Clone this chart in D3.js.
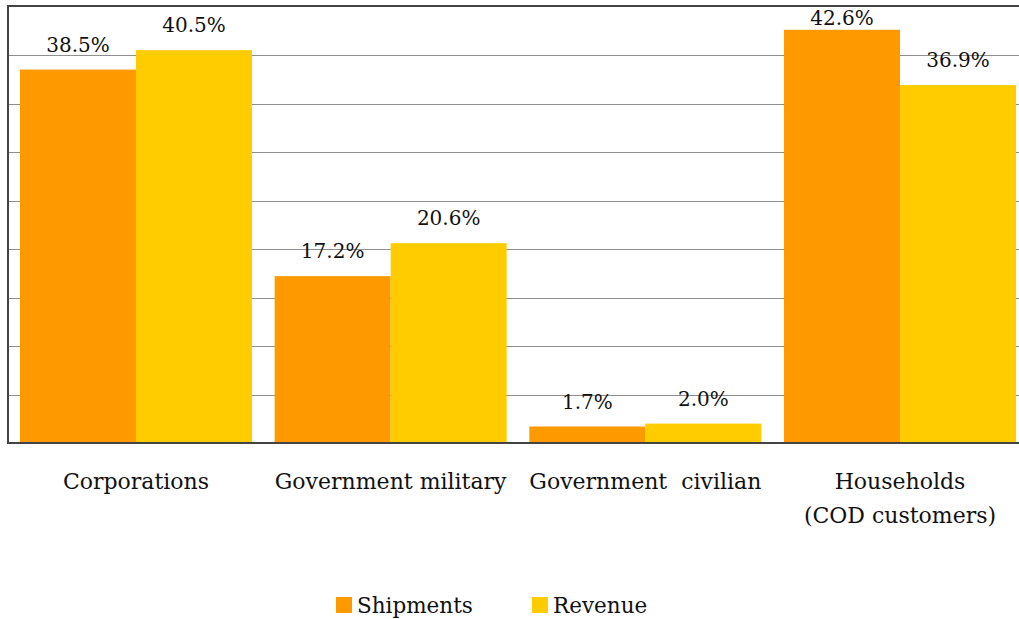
<!DOCTYPE html>
<html>
<head>
<meta charset="utf-8">
<script src="https://cdn.jsdelivr.net/npm/d3@7"></script>
<style>
  html, body { margin: 0; padding: 0; background: #fff; }
  svg { display: block; }
  text { font-family: "DejaVu Serif", serif; fill: #111; }
</style>
</head>
<body>
<script>
// Customer groups, each a list of label lines
const categories = [
  ["Corporations"],
  ["Government military"],
  ["Government  civilian"],
  ["Households", "(COD customers)"]
];
const seriesNames = ["Shipments", "Revenue"];
const shipments = [38.5, 17.2, 1.7, 42.6];
const revenue = [40.5, 20.6, 2.0, 36.9];
const yTicks = [0, 5, 10, 15, 20, 25, 30, 35, 40, 45];

const colors = ["#FF9900", "#FFCC00"];
const W = 1019, H = 619;
const plot = { left: 8, right: 1028, top: 6.5, bottom: 443 };

const svg = d3.select("body").append("svg")
  .attr("width", W).attr("height", H);

const keys = categories.map((c, i) => i);
const x0 = d3.scaleBand().domain(keys)
  .range([plot.left, plot.right])
  .paddingInner(0.089).paddingOuter(0.047);
const x1 = d3.scaleBand().domain(seriesNames)
  .range([0, x0.bandwidth()]);
const y = d3.scaleLinear().domain([0, 45]).range([plot.bottom, plot.top]);

// horizontal grid
svg.append("g")
  .selectAll("line").data(yTicks.slice(1, -1)).join("line")
  .attr("x1", plot.left).attr("x2", plot.right)
  .attr("y1", d => Math.round(y(d)) + 0.5).attr("y2", d => Math.round(y(d)) + 0.5)
  .attr("stroke", "#8f8f8f").attr("stroke-width", 1);

const rows = keys.map(i => ({ i, values: [shipments[i], revenue[i]] }));

// bars
const groups = svg.append("g").selectAll("g").data(rows).join("g")
  .attr("transform", d => `translate(${x0(d.i)},0)`);

groups.selectAll("rect")
  .data(d => d.values.map((v, k) => ({ k, v })))
  .join("rect")
  .attr("x", d => x1(seriesNames[d.k]))
  .attr("width", x1.bandwidth())
  .attr("y", d => y(d.v))
  .attr("height", d => y(0) - y(d.v))
  .attr("fill", d => colors[d.k]);

// frame around the plot
svg.append("rect")
  .attr("x", plot.left).attr("y", plot.top - 0.5)
  .attr("width", plot.right - plot.left)
  .attr("height", plot.bottom - plot.top + 0.5)
  .attr("fill", "none").attr("stroke", "#444").attr("stroke-width", 2);

// value labels, kept inside the top of the drawing
groups.selectAll("text.val")
  .data(d => d.values.map((v, k) => ({ k, v })))
  .join("text").attr("class", "val")
  .attr("x", d => x1(seriesNames[d.k]) + x1.bandwidth() / 2)
  .attr("y", d => Math.max(y(d.v) - 18, 25))
  .attr("text-anchor", "middle")
  .style("font-size", "20px")
  .text(d => d.v.toFixed(1) + "%");

// category labels
const cat = svg.append("g").selectAll("text").data(keys).join("text")
  .attr("x", i => x0(i) + x0.bandwidth() / 2)
  .attr("y", 489)
  .attr("text-anchor", "middle")
  .attr("xml:space", "preserve")
  .style("white-space", "pre")
  .style("font-size", "22px");
cat.selectAll("tspan").data(i => categories[i]).join("tspan")
  .attr("x", function () { return d3.select(this.parentNode).attr("x"); })
  .attr("dy", (d, j) => j === 0 ? 0 : 34)
  .text(d => d);

// legend
const legendX = [336, 532];
const lg = svg.append("g").selectAll("g").data(seriesNames).join("g")
  .attr("transform", (d, k) => `translate(${legendX[k]},597)`);
lg.append("rect").attr("width", 16).attr("height", 16)
  .attr("fill", (d, k) => colors[k]);
lg.append("text").attr("x", 21).attr("y", 15.5)
  .style("font-size", "21.5px")
  .text(d => d);
</script>
</body>
</html>
